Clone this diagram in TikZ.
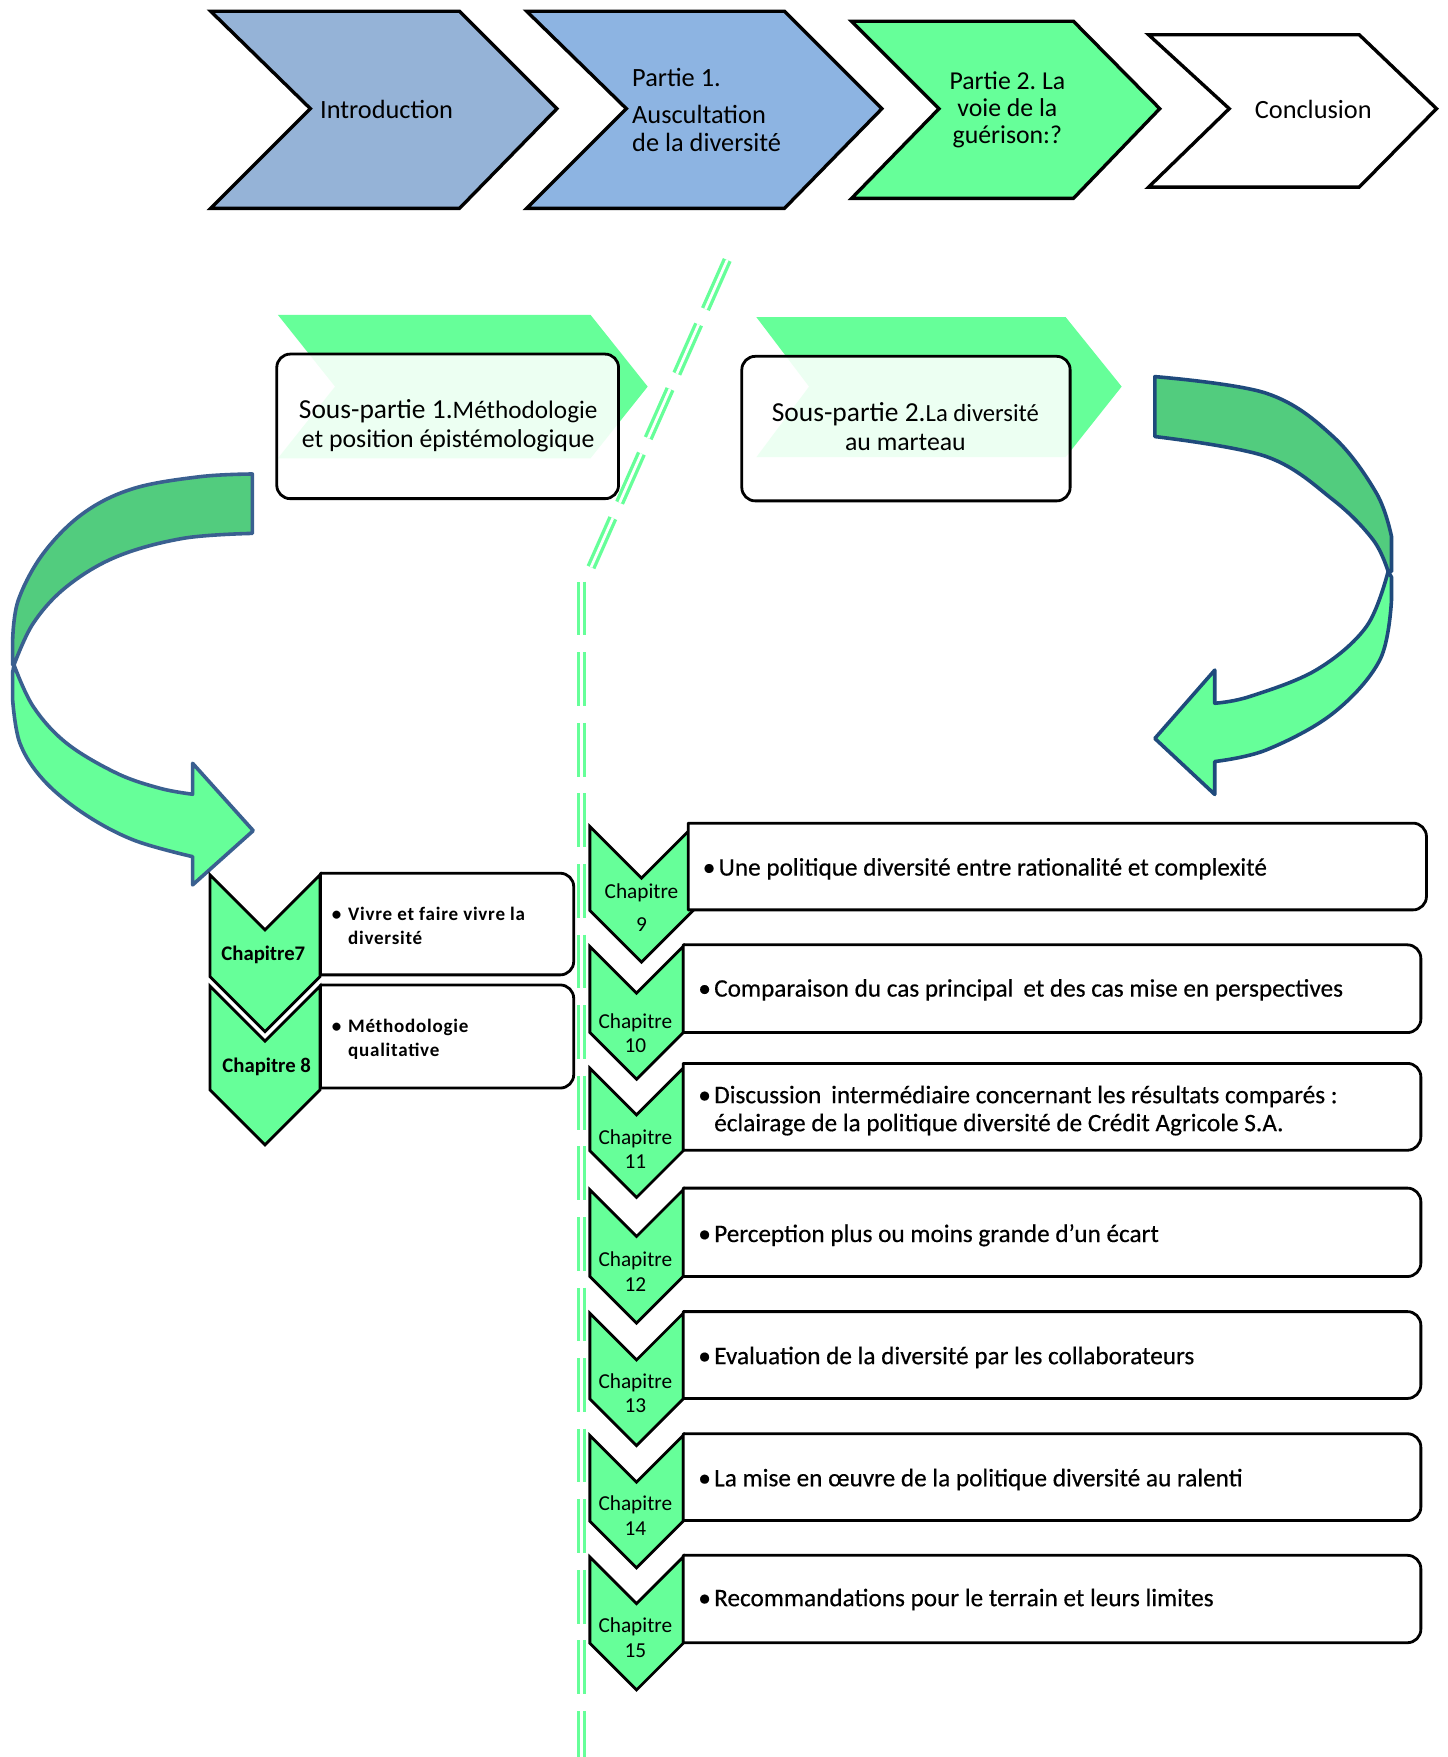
\documentclass[tikz,border=0pt]{standalone}
\usepackage{fontspec}
\setmainfont{Carlito}
\frenchspacing
\definecolor{introblue}{HTML}{95B3D7}
\definecolor{partblue}{HTML}{8DB4E2}
\definecolor{mint}{HTML}{66FF99}
\definecolor{darkmint}{HTML}{52CC7E}
\definecolor{edgeleft}{HTML}{3A6090}
\definecolor{edgeright}{HTML}{1F4A7C}

% downward chapter chevron: left x, right x, top y, bottom y of the sides
\newcommand{\chapchev}[4]{%
  \pgfmathsetmacro{\cxm}{(#1+#2)/2}%
  \pgfmathsetmacro{\chw}{(#2-#1)/2}%
  \draw[chev] (#1,#3) -- (\cxm,#3+\chw) -- (#2,#3) -- (#2,#4)
    -- (\cxm,#4+\chw) -- (#1,#4) -- cycle;}
% item box, square on the left and rounded on the right
\newcommand{\chapbox}[4]{%
  \draw[itembox] (#1,#3) -- (#2-12,#3) arc[start angle=-90,end angle=0,radius=12]
    -- (#2,#4-12) arc[start angle=0,end angle=90,radius=12] -- (#1,#4) -- cycle;}

\begin{document}
\begin{tikzpicture}[x=1pt,y=-1pt,
  topchev/.style={draw=black,line width=3pt,line join=miter,miter limit=10},
  toptext/.style={font=\fontsize{23.5}{25}\selectfont,inner sep=0pt},
  subtext/.style={font=\fontsize{23}{26}\selectfont,inner sep=0pt,align=center},
  subbox/.style={draw=black,line width=2.5pt,rounded corners=12pt,fill=white,fill opacity=0.88},
  chev/.style={draw=black,line width=2.5pt,fill=mint,line join=miter},
  itembox/.style={draw=black,line width=2.5pt,fill=white,line join=round},
  divider/.style={draw=mint,line width=3pt,double=white,double distance=2.4pt,
    dash pattern=on 48pt off 15pt},
  band/.style={line width=3.2pt,line join=round},
  chaplabel/.style={font=\fontsize{19}{21}\selectfont,inner sep=0pt},
  chaplabelL/.style={font=\fontsize{18.5}{21}\selectfont\bfseries,inner sep=0pt},
  itemtext/.style={font=\fontsize{22.5}{25}\selectfont\addfontfeatures{FakeBold=0.4},
    inner sep=0pt,anchor=mid west},
  leftitem/.style={font=\fontsize{17}{21}\selectfont\bfseries\addfontfeatures{LetterSpace=4},
    inner sep=0pt,anchor=west}]

\fill[white] (0,0) rectangle (1292,1568);
\useasboundingbox (0,0) rectangle (1292,1568);

% ---- top process chevrons
\draw[topchev,fill=introblue] (188,10) -- (410,10) -- (497,97) -- (410,186) -- (188,186) -- (277,97) -- cycle;
\draw[topchev,fill=partblue] (470,10) -- (700,10) -- (787,97) -- (700,186) -- (470,186) -- (559,97) -- cycle;
\draw[topchev,fill=mint] (760,19) -- (958,19) -- (1035,97) -- (958,177) -- (760,177) -- (838,97) -- cycle;
\draw[topchev,fill=white] (1025,31) -- (1213,31) -- (1282,97) -- (1213,167) -- (1025,167) -- (1097,97) -- cycle;

\node[toptext] (intro) at (345,98) {Introduction};
\node[toptext,align=left,anchor=west] (partA) at (564,98) {Partie 1.\\[8pt]Auscultation\\de la diversité};
\node[toptext,align=center,font=\fontsize{23}{24.5}\selectfont] (partB) at (899,98) {Partie 2. La\\voie de la\\guérison:?};
\node[toptext] (concl) at (1172,98) {Conclusion};

% ---- sub-part banners
\fill[mint] (248,281) -- (527,281) -- (578,345) -- (527,409) -- (248,409) -- (299,345) -- cycle;
\fill[mint] (675,283) -- (951,283) -- (1001,345) -- (951,408) -- (675,408) -- (722,345) -- cycle;
\draw[subbox] (247,316) rectangle (552,445);
\draw[subbox] (662,318) rectangle (955,447);
\node[subtext] (subA) at (400,380) {{\fontsize{24.5}{26}\selectfont Sous-partie 1.}{\fontsize{22.5}{26}\selectfont Méthodologie}\\et position épistémologique};
\node[subtext] (subB) at (808,381) {{\fontsize{24.5}{26}\selectfont Sous-partie 2.}{\fontsize{22}{26}\selectfont La diversité}\\au marteau};

% ---- dashed double divider
\draw[divider] (649,232) -- (524,514);
\draw[divider] (519,519) -- (519,1568);

% ---- curved arrow, left
\draw[band,draw=edgeleft,fill=darkmint]
  plot[smooth,tension=0.6] coordinates {(225.2,423) (178.5,425.4) (119,436) (74.4,458) (38.7,493.8) (16.4,535.4) (11.3,571)}
  -- (11.3,593.4)
  -- plot[smooth,tension=0.6] coordinates {(12.5,593.4) (29.7,556.2) (59.5,523.5) (104.1,496.8) (163.6,480.4) (225.2,476)}
  -- cycle;
\draw[band,draw=edgeleft,fill=mint]
  (12.5,593.4) -- (11.3,600)
  -- plot[smooth,tension=0.6] coordinates {(11.3,624.7) (17.8,663.3) (38.7,696) (74.4,725.8) (119,749.6) (171.9,764.5)}
  -- (171.9,789.7) -- (226,741.3) -- (171.9,681.2) -- (171.9,708.8)
  -- plot[smooth,tension=0.6] coordinates {(171.9,708.8) (142.8,703.5) (104.1,690) (59.5,663.3) (29.7,630.6) (12.5,593.4)}
  -- cycle;

% ---- curved arrow, right
\draw[band,draw=edgeright,fill=darkmint]
  plot[smooth,tension=0.6] coordinates {(1030.6,336.1) (1130.2,351) (1189.7,389.6) (1228.4,440.2) (1241.8,478.8)}
  -- (1241.8,510) -- (1238.8,510)
  -- plot[smooth,tension=0.6] coordinates {(1238.8,510) (1225.4,481.8) (1189.7,446.1) (1130.2,407.5) (1030.6,389.6)}
  -- cycle;
\draw[band,draw=edgeright,fill=mint]
  (1238.8,510) -- (1241.8,515)
  -- plot[smooth,tension=0.6] coordinates {(1241.8,535.4) (1231.4,589) (1189.7,636.5) (1130.2,669.2) (1084.1,679.6)}
  -- (1084.1,709) -- (1030.6,659) -- (1084.1,598) -- (1084.1,627.6)
  -- plot[smooth,tension=0.6] coordinates {(1084.1,627.6) (1115.3,621.6) (1174.8,597.8) (1219.4,559.2) (1238.8,510)}
  -- cycle;

% ---- chapters 7 and 8
\chapchev{187.4}{285.6}{780.8}{871.5}
\chapbox{286}{512}{779.3}{870}
\chapchev{187.4}{285.6}{880}{972.6}
\chapbox{286}{512}{879}{971}
\node[chaplabelL] (c7) at (235,852) {Chapitre7};
\node[chaplabelL] (c8) at (238,952) {Chapitre 8};
\node[leftitem] (i7) at (296,828) {\begin{tabular}{@{}l@{\hspace{6pt}}l@{}}\textbullet & Vivre et faire vivre la\\ & diversité\end{tabular}};
\node[leftitem] (i8) at (296,928) {\begin{tabular}{@{}l@{\hspace{6pt}}l@{}}\textbullet & Méthodologie\\ & qualitative\end{tabular}};

% ---- chapters 9 to 15
\chapchev{526.4}{618.6}{737.5}{812.5}
\chapbox{614.2}{1273}{734.6}{812}
\chapchev{526.4}{609.7}{844.7}{921.5}
\chapbox{609.7}{1268}{843.2}{921.5}
\chapchev{526.4}{609.7}{953.3}{1027}
\chapbox{609.7}{1268}{949}{1026.5}
\chapchev{526.4}{609.7}{1061.8}{1139.2}
\chapbox{609.7}{1268}{1060.3}{1139.2}
\chapchev{526.4}{609.7}{1172}{1248.5}
\chapbox{609.7}{1268}{1170.5}{1248}
\chapchev{526.4}{609.7}{1281}{1357.5}
\chapbox{609.7}{1268}{1279.5}{1357}
\chapchev{526.4}{609.7}{1389.5}{1466.5}
\chapbox{609.7}{1268}{1388}{1466}

\node[chaplabel] (c9a) at (572.5,797) {Chapitre};
\node[chaplabel] (c9b) at (572.5,825) {9};
\node[chaplabel] (c10a) at (567,913) {Chapitre};
\node[chaplabel] (c10b) at (567,933) {10};
\node[chaplabel] (c11a) at (567,1016) {Chapitre};
\node[chaplabel] (c11b) at (567,1037) {11};
\node[chaplabel] (c12a) at (567,1125) {Chapitre};
\node[chaplabel] (c12b) at (567,1146) {12};
\node[chaplabel] (c13a) at (567,1234) {Chapitre};
\node[chaplabel] (c13b) at (567,1254) {13};
\node[chaplabel] (c14a) at (567,1343) {Chapitre};
\node[chaplabel] (c14b) at (567,1364) {14};
\node[chaplabel] (c15a) at (567,1452) {Chapitre};
\node[chaplabel] (c15b) at (567,1473) {15};

\node[itemtext] (i9) at (627,779) {\textbullet\hspace{3pt}Une politique diversité entre rationalité et complexité};
\node[itemtext] (i10) at (623,887) {\textbullet\hspace{3pt}Comparaison du cas principal\, et des cas mise en perspectives};
\node[itemtext,anchor=west] (i11) at (623,992) {\begin{tabular}{@{}l@{\hspace{3pt}}l@{}}\textbullet & Discussion\, intermédiaire concernant les résultats comparés :\\ & éclairage de la politique diversité de Crédit Agricole S.A.\end{tabular}};
\node[itemtext] (i12) at (623,1106) {\textbullet\hspace{3pt}Perception plus ou moins grande d’un écart};
\node[itemtext] (i13) at (623,1215) {\textbullet\hspace{3pt}Evaluation de la diversité par les collaborateurs};
\node[itemtext] (i14) at (623,1324) {\textbullet\hspace{3pt}La mise en œuvre de la politique diversité au ralenti};
\node[itemtext] (i15) at (623,1431) {\textbullet\hspace{3pt}Recommandations pour le terrain et leurs limites};
\end{tikzpicture}
\end{document}
